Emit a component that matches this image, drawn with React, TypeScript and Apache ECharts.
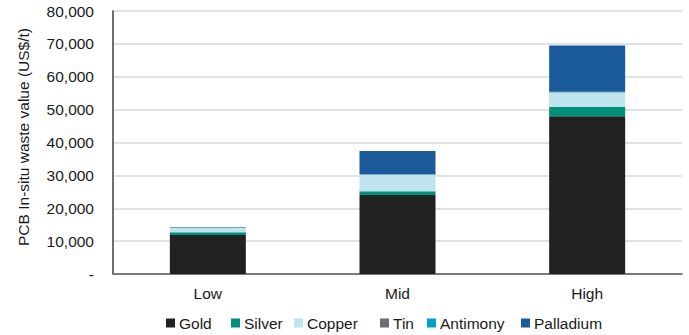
import React, { useEffect, useRef } from "react";
import * as echarts from "echarts";

// Scenarios on the x axis
const categories = ["Low", "Mid", "High"];

// In-situ waste value per metal (US$/t), one entry per scenario
const gold = [11900, 24000, 48000];
const silver = [800, 1200, 2800];
const copper = [1300, 5000, 4400];
const tin = [30, 50, 100];
const antimony = [60, 100, 100];
const palladium = [150, 7100, 14100];

const yTicks = [0, 10000, 20000, 30000, 40000, 50000, 60000, 70000, 80000];

const FONT = "'Liberation Sans', Arial, sans-serif";
const FS = 15.5;

const metals = [
  { name: "Gold", data: gold, color: "#212121" },
  { name: "Silver", data: silver, color: "#00907a" },
  { name: "Copper", data: copper, color: "#c0e4ee" },
  { name: "Tin", data: tin, color: "#6c6d70" },
  { name: "Antimony", data: antimony, color: "#00a1c6" },
  { name: "Palladium", data: palladium, color: "#1a5a9a" },
];

// Left edge of each legend swatch
const legendLeft = [166, 231, 294, 380, 427, 521];

export default function App() {
  const ref = useRef<HTMLDivElement>(null);

  useEffect(() => {
    if (!ref.current) return;
    const chart = echarts.init(ref.current, null, { renderer: "svg" });
    chart.setOption({
      animation: false,
      grid: { left: 113, right: 7, top: 11, bottom: 61, containLabel: false },
      xAxis: {
        type: "category",
        data: categories,
        axisLine: { show: true, lineStyle: { color: "#595959", width: 1.5 } },
        axisTick: { show: false },
        axisLabel: { color: "#1a1a1a", fontSize: FS, fontFamily: FONT, margin: 11 },
      },
      yAxis: {
        type: "value",
        min: yTicks[0],
        max: yTicks[yTicks.length - 1],
        interval: yTicks[1] - yTicks[0],
        axisLine: { show: true, lineStyle: { color: "#404040", width: 1.5 } },
        axisTick: { show: false },
        splitLine: { show: true, lineStyle: { color: "#d9d9d9", width: 1.5 } },
        axisLabel: {
          color: "#1a1a1a",
          fontSize: FS,
          fontFamily: FONT,
          margin: 19,
          formatter: (v: number) => (v === 0 ? "-" : v.toLocaleString("en-US")),
        },
      },
      legend: metals.map((m, i) => ({
        data: [m.name],
        left: legendLeft[i],
        top: 315,
        padding: 0,
        icon: "rect",
        itemWidth: 9,
        itemHeight: 9,
        textStyle: { color: "#1a1a1a", fontSize: FS, fontFamily: FONT, padding: [0, 0, 0, -1] },
      })),
      graphic: [
        {
          type: "text",
          x: 23,
          y: 137,
          rotation: Math.PI / 2,
          style: {
            text: "PCB In-situ waste value (US$/t)",
            fill: "#1a1a1a",
            font: `${FS}px ${FONT}`,
            align: "center",
            verticalAlign: "middle",
          },
        },
      ],
      series: metals.map((m) => ({
        name: m.name,
        type: "bar",
        stack: "total",
        barWidth: 76,
        data: m.data,
        itemStyle: { color: m.color },
        emphasis: { disabled: true },
      })),
    });
    return () => chart.dispose();
  }, []);

  return (
    <div
      ref={ref}
      style={{ position: "absolute", left: 0, top: 0, width: 689, height: 335, background: "#fff" }}
    />
  );
}
